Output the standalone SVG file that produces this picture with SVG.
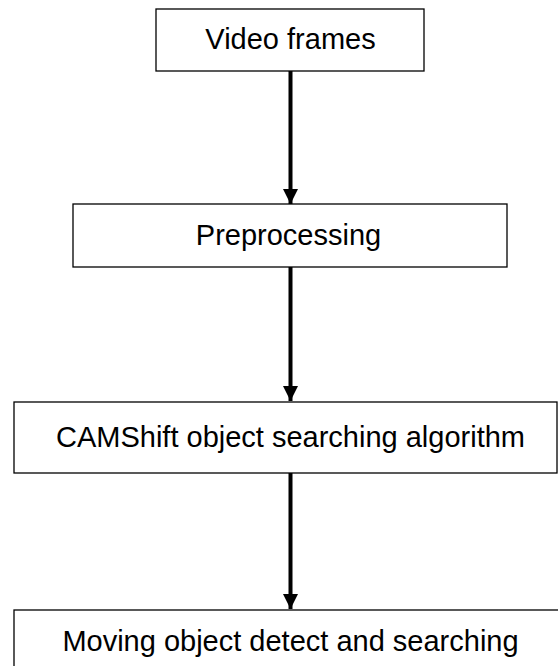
<svg xmlns="http://www.w3.org/2000/svg" width="558" height="666" viewBox="0 0 558 666">
  <style>
    .box { fill: #ffffff; stroke: #000000; stroke-width: 1.3; }
    .lbl { font-family: "Liberation Sans", Arial, sans-serif; font-size: 29px; fill: #000000; text-anchor: middle; }
    .conn { stroke: #000000; stroke-width: 4; fill: none; }
  </style>
  <defs>
    <marker id="arrow" markerUnits="userSpaceOnUse" markerWidth="16" markerHeight="16" refX="15" refY="7.5" orient="auto">
      <path d="M0,0 L15,7.5 L0,15 z" fill="#000000"/>
    </marker>
  </defs>
  <rect width="558" height="666" fill="#ffffff"/>
  <g id="connectors">
    <path class="conn" d="M290.5,71 L290.5,204" marker-end="url(#arrow)"/>
    <path class="conn" d="M290.5,267 L290.5,401" marker-end="url(#arrow)"/>
    <path class="conn" d="M290.5,473 L290.5,609" marker-end="url(#arrow)"/>
  </g>
  <g id="node-video-frames">
    <rect class="box" x="156" y="9" width="268" height="62"/>
    <text class="lbl" x="290.5" y="49">Video frames</text>
  </g>
  <g id="node-preprocessing">
    <rect class="box" x="73" y="204" width="434" height="63"/>
    <text class="lbl" x="288.5" y="245">Preprocessing</text>
  </g>
  <g id="node-camshift">
    <rect class="box" x="14" y="402" width="543" height="71"/>
    <text class="lbl" x="290.5" y="447">CAMShift object searching algorithm</text>
  </g>
  <g id="node-moving-object">
    <rect class="box" x="14" y="610" width="560" height="80"/>
    <text class="lbl" x="290.5" y="651">Moving object detect and searching</text>
  </g>
</svg>
